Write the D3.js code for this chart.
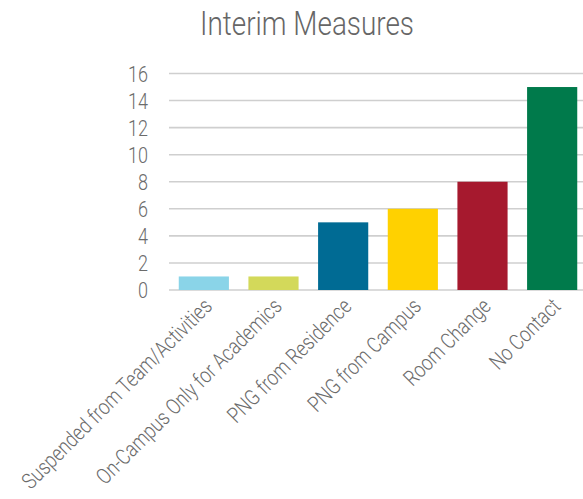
<!DOCTYPE html>
<html>
<head>
<meta charset="utf-8">
<script src="https://cdn.jsdelivr.net/npm/d3@7"></script>
<style>
  html, body { margin: 0; padding: 0; background: #fff; }
  svg text { font-family: Roboto, "Open Sans", sans-serif; fill: #6b6b6b; font-weight: 300; }
</style>
</head>
<body>
<svg id="chart" width="583" height="499"></svg>
<script>
// Interim measures: count per measure
const categories = [
  "Suspended from Team/Activities",
  "On-Campus Only for Academics",
  "PNG from Residence",
  "PNG from Campus",
  "Room Change",
  "No Contact"
];
const values = [1, 1, 5, 6, 8, 15];
const colors = ["#8ad4e8", "#d3d95a", "#006b94", "#ffd100", "#a6192e", "#007a4b"];
const yTicks = [0, 2, 4, 6, 8, 10, 12, 14, 16];
const title = "Interim Measures";

const svg = d3.select("#chart");
const narrow = 0.82; // horizontal squeeze for a condensed look

const x = d3.scaleBand()
  .domain(categories)
  .range([169, 587])
  .paddingInner(0.28)
  .paddingOuter(0.14);

const y = d3.scaleLinear()
  .domain([0, 16])
  .range([290, 73.5]);

// horizontal gridlines
svg.append("g")
  .selectAll("line")
  .data(yTicks)
  .join("line")
  .attr("x1", 169)
  .attr("x2", 583)
  .attr("y1", d => y(d))
  .attr("y2", d => y(d))
  .attr("stroke", "#cfcfcf")
  .attr("stroke-width", 1.6);

// y axis labels
const yAxis = svg.append("g")
  .attr("transform", "translate(148,0)")
  .call(d3.axisLeft(y).tickValues(yTicks).tickSize(0).tickPadding(0));
yAxis.select(".domain").remove();
yAxis.selectAll("text")
  .attr("x", 0)
  .attr("dy", "0.36em")
  .attr("transform", `scale(${narrow},1)`)
  .style("font-size", "22px")
  .style("font-family", "Roboto, sans-serif")
  .style("font-weight", 300)
  .style("fill", "#6b6b6b");

// bars
svg.append("g")
  .selectAll("rect")
  .data(categories)
  .join("rect")
  .attr("x", d => x(d))
  .attr("width", x.bandwidth())
  .attr("y", (d, i) => y(values[i]))
  .attr("height", (d, i) => y(0) - y(values[i]))
  .attr("fill", (d, i) => colors[i]);

// rotated category labels
svg.append("g")
  .selectAll("text")
  .data(categories)
  .join("text")
  .attr("transform", d => `translate(${x(d) + x.bandwidth() / 2 + 4},${302}) rotate(-45) scale(${narrow},1)`)
  .attr("text-anchor", "end")
  .attr("dy", "0.36em")
  .style("font-size", "22px")
  .text(d => d);

// title
svg.append("text")
  .attr("transform", `translate(307,35) scale(${narrow},1)`)
  .attr("text-anchor", "middle")
  .style("font-size", "34px")
  .style("fill", "#666")
  .text(title);
</script>
</body>
</html>
